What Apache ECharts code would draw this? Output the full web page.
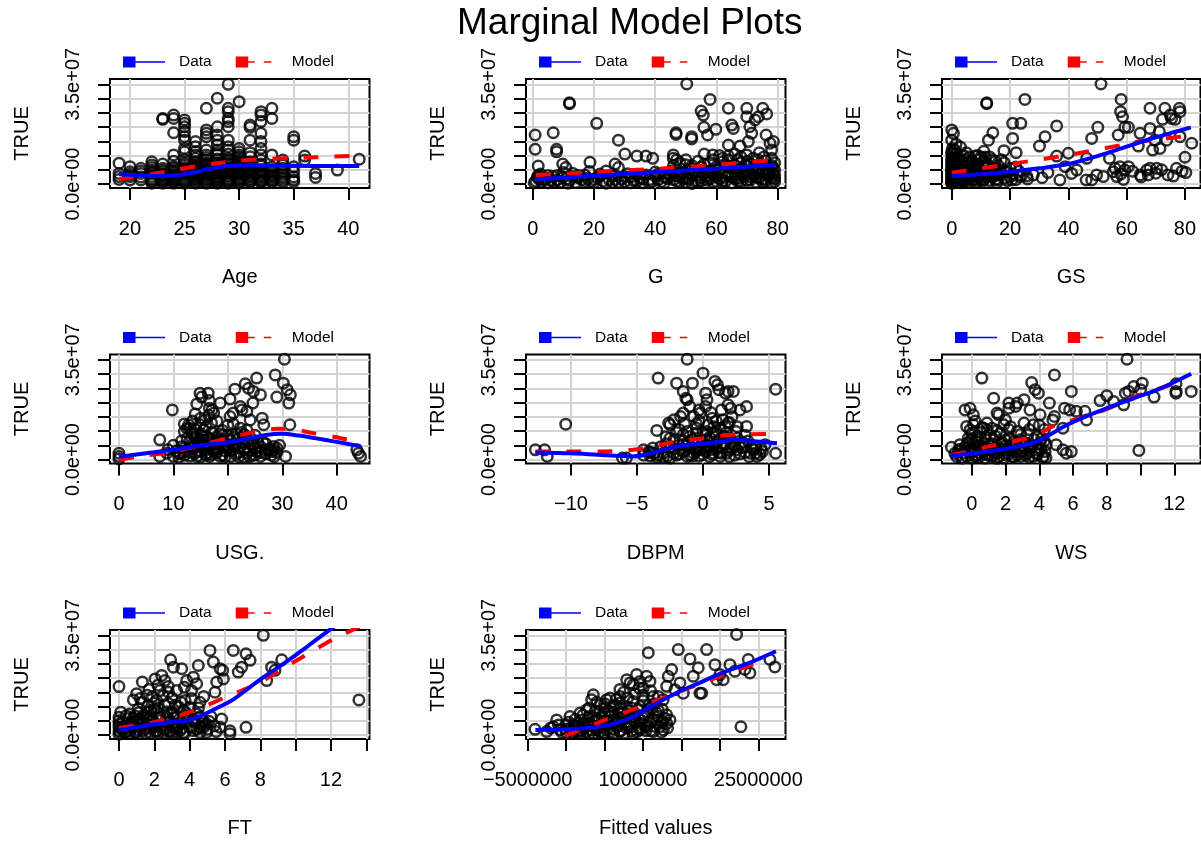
<!DOCTYPE html>
<html>
<head>
<meta charset="utf-8">
<title>Marginal Model Plots</title>
<script src="https://cdn.jsdelivr.net/npm/echarts@6/dist/echarts.min.js"></script>
<style>
  html, body { margin: 0; padding: 0; background: #fff; }
  #chart { width: 1201px; height: 843px; }
</style>
</head>
<body>
<div id="chart"></div>
<script>
// ---- data (salary in millions) ----
const yTicks = [0, 5, 10, 15, 20, 25, 30, 35];
const yLabelVals = [0, 35];
const yLabelText = ["0.0e+00", "3.5e+07"];

// Age: points grouped by age
const ageCols = [
  [19, [7.3, 3.7, 2.6, 1.6]],
  [20, [6.1, 4.3, 2.6, 1.4, 3.4]],
  [21, [5.5, 3.7, 1.4, 2.5, 4.6]],
  [22, [7.8, 6.7, 4.9, 3.7, 2.6, 0.8, 1.8, 5.8, 0.3, 1.2, 4.2]],
  [23, [23.0, 22.7, 5.5, 4.3, 2.6, 0.8, 1.6, 3.4, 7.0, 0.3, 1.2, 2.0, 3.0, 4.8]],
  [24, [24.2, 23.0, 18.0, 10.2, 6.1, 3.7, 2.0, 0.8, 1.2, 2.8, 4.8, 8.0, 0.3, 1.6, 2.4, 3.2, 4.3, 5.5]],
  [25, [22.5, 21.3, 20.1, 18.4, 16.6, 15.4, 12.5, 11.3, 6.7, 4.3, 2.6, 0.8, 1.5, 3.3, 5.2, 8.5, 0.3, 1.1, 2.0, 3.7, 4.8, 5.8, 7.3]],
  [26, [14.9, 13.1, 11.3, 10.2, 7.8, 5.5, 3.7, 2.0, 0.5, 1.2, 2.8, 4.6, 6.5, 9.0, 0.3, 1.6, 2.4, 3.2, 4.2, 5.0, 6.0, 7.2]],
  [27, [26.6, 19.0, 17.8, 16.6, 11.9, 10.2, 8.4, 6.7, 4.3, 2.6, 0.5, 1.2, 3.4, 5.3, 7.5, 9.3, 0.3, 1.6, 2.0, 3.0, 3.8, 4.8, 6.0, 7.0]],
  [28, [30.1, 20.1, 17.2, 15.4, 13.7, 11.9, 10.2, 7.3, 4.9, 2.6, 0.5, 1.4, 3.6, 6.0, 8.8, 11.0, 0.3, 1.0, 1.8, 2.2, 3.0, 4.2, 5.4, 6.5]],
  [29, [35.0, 26.6, 25.4, 23.0, 21.9, 20.1, 15.4, 13.1, 11.9, 9.0, 6.1, 3.7, 1.4, 0.5, 2.5, 4.8, 7.5, 10.5, 0.3, 1.0, 1.8, 3.0, 4.2, 5.4, 6.8, 8.2]],
  [30, [28.9, 12.5, 11.3, 10.2, 8.4, 6.7, 4.3, 2.0, 0.5, 1.2, 3.2, 5.5, 7.6, 9.5, 0.3, 1.6, 2.6, 3.8, 4.8, 6.0, 7.2]],
  [31, [20.7, 19.9, 15.4, 9.6, 7.8, 4.9, 2.6, 1.4, 0.5, 3.5, 6.2, 11.0, 1.0, 2.0, 3.0, 4.2, 5.5, 7.0]],
  [32, [25.4, 24.2, 21.9, 17.8, 14.9, 12.5, 8.4, 4.3, 2.6, 1.4, 0.5, 2.0, 6.3, 10.2, 1.0, 3.0, 3.6, 5.0, 7.0]],
  [33, [26.6, 23.0, 10.2, 4.3, 2.6, 1.4, 0.5, 3.5, 6.0, 1.0, 2.0, 3.0, 5.0]],
  [34, [8.4, 6.7, 4.3, 2.6, 1.2, 0.5, 2.0, 3.4, 5.5]],
  [35, [16.6, 15.4, 6.1, 4.3, 0.8, 1.5, 2.5]],
  [36, [9.8, 8.4]],
  [37, [3.7, 2.3]],
  [39, [4.9]],
  [41, [8.7]]
];
const ageData = [[19,3.4],[21,3.0],[22.5,2.8],[24,3.0],[25,3.4],[26,4.2],[27,5.1],[28,5.8],[29,6.3],[30,6.5],[32,6.5],[35,6.4],[38,6.3],[41,6.3]];
const ageModel = [[19,1.6],[20,2.4],[22,3.4],[24,4.8],[26,6.2],[28,7.3],[30,8.2],[32,8.7],[34,9.0],[37,9.4],[41,9.9]];
const ageTicks = [20, 25, 30, 35, 40];

// G
const gPts = [
  [0.8,17.2],[0.8,12.2],[6.7,18.0],[1.8,6.3],[7.8,12.2],[7.8,11.3],[12,28.5],[12,28.2],[20.9,21.3],[9.8,7.0],
  [10.8,5.8],[18.7,7.6],[28,15.4],[26.9,7.0],[28,5.8],[30.1,10.5],[34,9.8],[37,9.8],[39.2,9.0],[45.9,10.2],
  [46.8,18.0],[46.8,17.4],[45.9,9.0],[50.3,35.1],[51.9,16.6],[51.9,15.8],[55,25.6],[55.7,24.2],[55.9,19.9],[57.1,17.2],
  [57.9,29.7],[59.8,19.2],[58.8,10.2],[63.9,26.6],[65,20.7],[65.5,19.5],[63.9,13.7],[63.9,9.8],[67.7,13.3],[69.9,26.6],
  [69.9,23.6],[70.9,20.1],[71.5,17.8],[72.6,22.5],[73.7,23.6],[75.1,26.6],[76.4,24.6],[76.2,17.2],[77.5,14.3],[78.6,14.9],
  [78,11.9],[70.4,14.9],[69.9,10.2],[72,9.0],[78,9.0],
  [48,7.5],[50,8.5],[52,6.5],[54,8.0],[56,7.0],[60,6.0],[62,7.8],[64,8.5],[66,6.5],[68,7.5],[70,8.0],[72,6.0],
  [74,7.0],[76,8.2],[78,6.5],[79,7.5],[66,10.5],[74,11.0],[61,10.0],
  [1,1.0],[1.5,2.5],[2.5,3.5],[3,0.8],[4.5,2.0],[6,1.2],[8,3.0],[9,0.6],[11,1.8],[13,2.6],[14,0.5],[16,1.5],
  [17,3.2],[19,0.8],[21,2.3],[23,1.0],[24,0.3],[26,2.8],[28,0.6],[29,1.8],[31,3.6],[33,1.2],[35,2.2],[36,0.4],
  [38,1.5],[40,2.8],[42,0.8],[44,1.9],[44.5,3.6],[47,1.0],[48,2.5],[49,4.0],[50,0.5],[51,1.7],[52,3.1],[53,4.5],
  [54,0.9],[55,2.2],[56,3.8],[57,1.3],[58,4.6],[59,0.6],[60,2.7],[61,3.9],[62,1.1],[63,2.4],[64,4.2],[65,0.4],
  [66,1.9],[67,3.3],[68,0.8],[69,2.6],[70,4.4],[71,1.4],[72,3.0],[73,0.6],[74,2.1],[75,4.0],[76,1.2],[77,2.9],
  [78,0.5],[78.5,3.6],[79,1.8],[79,4.8],
  [41,3.5],[43,2.5],[45,4.5],[46,1.5],[47,3.0],[49,1.8],[51,3.5],[53,1.0],[55,4.2],[57,2.8],[59,3.5],[61,1.8],
  [63,3.8],[65,2.5],[67,1.0],[69,4.0],[71,2.5],[73,4.5],[75,1.8],[77,3.8],[79,2.8],[76,5.5],[70,6.5],[64,6.0],
  [58,7.5],[52,5.5],[46,6.5],[62,9.0],[68,9.5],[56,10.5],
  [2,1.8],[5,3.0],[7,0.6],[10,2.5],[12,1.2],[15,3.0],[18,2.0],[20,0.5],[22,3.5],[25,1.5],[27,3.0],[30,0.8],
  [32,2.5],[34,1.0],[37,3.2],[39,0.8],
  [0.5,0.4],[2,3.0],[3.5,1.5],[5,0.4],[6.5,2.6],[8,1.4],[10,4.0],[11.5,0.3],[13,3.8],[15,2.2],[17,0.9],[18.5,4.4],
  [20,1.6],[22,2.8],[24,4.6],[26,0.5],[27,1.6],[30,2.6],[32,0.4],[34,3.4],[36,1.8],[38,0.4],[40,4.2],[41,1.5],
  [43,0.4],[45,2.8],[46,4.0],[48,0.6],[50,2.0],[51,4.6],[52,0.2],[54,3.2],[55,1.1],[57,4.0],[58,2.0],[60,0.9],
  [61,5.0],[63,1.0],[64,3.0],[66,4.5],[67,2.0],[68,5.5],[70,1.2],[71,3.5],[72,4.8],[73,2.4],[74,5.6],[75,0.8],
  [76,3.2],[77,5.0],[78,2.2],[79,0.8],[78.5,5.8],[73.5,8.5],[75.5,9.5],[71,7.2],[67,8.5],[63,6.8],[59,8.5],[55,6.0],
  [50,6.8],[47,8.5]
];
const gData = [[1,1.6],[20,2.9],[40,4.1],[60,5.4],[79,6.7]];
const gModel = [[1,3.1],[20,4.2],[40,5.3],[60,6.7],[78,8.4]];
const gTicks = [0, 20, 40, 60, 80];

// GS
const gsPts = [
  [0,19.0],[0.6,17.8],[0,15.4],[0.3,12.5],[1.1,11.9],[12,28.5],[12,28.2],[12.6,15.4],[14.1,18.0],[17.9,11.7],
  [22.1,11.0],[20.9,21.3],[23.7,21.3],[20.9,16.0],[25.1,29.7],[20.6,1.4],[23.4,2.6],[25.7,2.8],[30.1,13.3],[32,16.6],
  [36,20.4],[36,9.8],[37.1,1.4],[40,10.8],[38.9,6.1],[41.1,3.7],[42.9,4.9],[46.3,9.0],[46.1,1.4],[48,1.4],
  [48,16.0],[50.1,19.9],[51.2,35.1],[49.7,3.2],[52,2.6],[54.1,9.0],[57.1,17.2],[58.1,29.7],[57.9,25.4],[58.6,23.6],
  [59.4,19.9],[60.6,19.9],[55.4,4.3],[56.6,2.6],[57.7,6.1],[59.4,4.9],[58.9,1.6],[60.6,6.1],[64.6,17.8],[64,13.3],
  [64.6,3.2],[67.4,3.2],[66.9,4.9],[68,5.5],[70.3,5.5],[68,26.6],[68,19.5],[68.9,11.9],[71.2,18.4],[71.4,12.5],
  [72.3,22.7],[73.1,26.6],[74.9,24.2],[75.4,23.0],[76.6,22.7],[78.1,26.6],[78.3,25.4],[77.1,5.5],[74.1,3.2],[80,9.4],
  [80.3,4.0],[78.3,16.6],[82.3,14.3],[73.7,15.4],[69.7,15.4],
  [0,0.5],[0,1.5],[0,2.5],[0,3.5],[0,5],[0,6.5],[0,8],[0.5,9.5],[1,0.8],[1,3],[1.5,4.5],[1.5,7],[2,1.5],[2,2.5],
  [2.5,6],[3,0.4],[3,3.8],[3.5,8.5],[4,1.8],[4.5,5.2],[5,2.8],[5.5,0.6],[6,4],[6,9.5],[6.5,7.5],[7,1.4],[7.5,3],
  [8,5.5],[8.5,0.8],[9,2.2],[9.5,8.5],[10,4],[10.5,1],[11,6],[11.5,9.5],[12,2.5],[13,1.2],[13.5,4.5],[14,8.5],
  [15,3],[15.5,0.5],[16,6.5],[17,8.5],[18,2],[19,4.5],[21,3.5],[22,1.5],[24,3],[13,9.5],[8,9.8],
  [0,0.2],[0,4.2],[0,7.2],[0,10.5],[0.5,2],[1,5.8],[1,9],[2,4],[2,7.8],[3,2.2],[3,5.8],[4,0.8],[4,10],[5,6.5],
  [6,1.8],[7,5],[8,3.5],[9,7],[10,1.8],[10,9.5],[12,4],[12,7],[14,2.5],[16,1.5],[17,4],[19,1.2],[20,5.5],[22,6],
  [18,7.5],[15,8],[11,11.5],[5,11],[3,13],[1.5,14],[62,4.5],[65,2.5],[70,3.8],[72,5],[76,2.8],[79,4.5],[56,5.5],[58,3.5],
  [0,1.0],[0,2.0],[0,3.0],[0,4.6],[0,5.6],[0,9.0],[0,11.3],[0.5,3.3],[0.5,6.2],[1,1.8],[1,4.0],[1,7.6],[1.5,2.8],
  [1.5,10.5],[2,0.5],[2,5.2],[2.5,3.5],[2.5,8.5],[3,1.5],[3,6.8],[3.5,4.5],[4,3],[4,6],[4.5,1.2],[5,4.5],[5,8.5],
  [5.5,2.5],[6,6.5],[7,3],[7,8],[8,1.5],[8,7],[9,4.5],[9,10],[10,3],[11,1.5],[11,8],[12,5.5],[13,3.2],[14,5.5],
  [15,1.6],[16,3.5],[18,4.5],[20,2.5],[23,4.5],[26,1.8],[28,3.2],[31,2.2],[33,4.0]
];
const gsData = [[0,2.8],[10,3.4],[20,4.3],[30,5.5],[40,7.0],[50,9.8],[60,13.1],[70,16.4],[82,19.9]];
const gsModel = [[0,4.0],[20,7.0],[40,10.2],[60,14.0],[70,15.6],[81,16.8]];
const gsTicks = [0, 20, 40, 60, 80];

// USG.
const usgPts = [
  [0,2.2],[0,1.1],[0,0.2],[7.5,6.9],[9.8,17.4],[7.5,1.1],[8.8,2.2],[10,1.1],[11.2,2.2],[12.5,11.0],
  [12.8,12.2],[13.4,9.2],[14.3,19.5],[14.9,23.3],[15.2,21.9],[15.8,13.9],[16.4,23.3],[16.6,20.7],[17.1,17.4],[16.6,18.0],
  [18.6,19.8],[17.4,16.3],[14.9,12.2],[15.5,10.4],[16.1,8.1],[13.7,5.7],[14.9,4.6],[16.1,2.2],[17.4,3.4],[12.5,3.4],
  [18,6.3],[19.2,4.6],[14.3,1.1],[16.7,1.1],[18.6,1.1],[20.4,15.1],[21,16.3],[20.4,21.2],[21.3,24.7],[22.3,18.6],
  [22.6,17.4],[23.2,26.6],[23.8,25.0],[24.7,23.9],[25.3,28.6],[26,22.7],[24.6,19.8],[23.5,16.9],[24.1,13.9],[26.3,14.5],
  [26.6,12.2],[23.5,10.4],[22.3,11.0],[22,7.5],[22.9,5.7],[24.7,5.2],[21,3.4],[23.5,2.2],[25.3,2.8],[26.9,3.4],
  [28.4,4.6],[28.4,3.4],[26,1.1],[28.7,29.7],[29,21.9],[30.4,35.2],[30.2,26.8],[30.9,24.5],[31.5,22.7],[31.2,19.8],
  [31.4,12.2],[30.6,1.1],[43.7,3.4],[44,2.2],[44.4,1.1],
  [10.5,3.0],[11.5,4.5],[12,1.5],[13,6.5],[14,7.8],[15,3.0],[16,5.5],[17,7.0],[18,2.5],[19,8.5],[20,3.9],
  [20.5,6.8],[21.5,1.8],[22,4.2],[23,8.8],[24,1.0],[25,4.0],[27,2.0],[28,2.8],[18.5,9.0],[15,9.0],
  [11,0.8],[12,2.8],[13,1.2],[13.5,4],[14,2.2],[14.5,6],[15,1],[15.5,5],[16,3.5],[16.5,7.5],[17,1.8],[17.5,5.5],
  [18,4],[18.5,7],[19,1.5],[19.5,3],[20,5],[20.5,1],[21,7.8],[21.5,5],[22,2.5],[22.5,9.5],[23,0.8],[24,3],
  [24.5,7],[25,1.6],[25.5,6],[26,4.5],[27,5.5],[28,1.5],[29,4],[12,9.8],[14,10.5],[16,11.5],[17,12.8],[19,10.2],
  [20,12],[13.5,13.5],
  [9,3.5],[10,5.0],[11,2.0],[11.5,6.5],[12,4.0],[12.5,7.5],[13,2.5],[13.5,9.0],[14,5.0],[14.5,3.0],[15,6.5],
  [15.5,8.0],[16,1.5],[16.5,4.5],[17,9.5],[17.5,2.5],[18,8.0],[18.5,5.0],[19,6.5],[19.5,1.0],[20,8.5],[20.5,3.0],
  [21,5.5],[21.5,9.0],[22,1.0],[22.5,6.0],[23,3.5],[23.5,7.0],[24,5.5],[24.5,1.5],[25,8.5],[26,2.5],[26.5,6.0],
  [27.5,3.5],[28.5,1.0],[29,2.5],[29.5,5.0],[15,14.5],[18,13.5],[21,12.5],[14,16],[16.5,15.5],[13,11],[12,12.5]
];
const usgData = [[0,1.0],[5,2.2],[10,3.4],[15,4.9],[20,6.0],[24,7.4],[27,8.6],[30,9.0],[33,8.4],[36,7.5],[40,6.2],[44.4,4.6]];
const usgModel = [[0,0],[5,1.4],[10,2.8],[15,5.0],[20,7.5],[25,9.7],[29,10.8],[32,10.6],[35,9.5],[40,7.8],[44.7,5.7]];
const usgTicks = [0, 10, 20, 30, 40];

// DBPM
const dbpmPts = [
  [-12.7,3.4],[-12,3.4],[-11.8,1.1],[-10.4,12.4],[-6.1,0.5],[-5.8,0.5],[-4.5,3.4],[-4.1,2.8],[-3.7,2.2],[-3.4,1.6],
  [-3.5,10.2],[-3.4,28.6],[-2.6,12.8],[-2.5,12.2],[-2,26.8],[-1.5,23.9],[-1.2,35.2],[-0.8,26.8],[-1.3,21.5],[-1.2,21.0],
  [-1,18.6],[-1.5,16.3],[-1.7,15.1],[-0.7,15.1],[-0.3,17.4],[0,30.3],[0.2,23.3],[0.3,21.0],[0.2,18.6],[-0.2,16.3],
  [0.7,14.5],[0.4,12.2],[0.9,27.4],[1.1,26.2],[1.2,24.5],[1.7,23.3],[1.9,23.9],[2.3,23.9],[1.4,17.4],[1.9,19.2],
  [2.1,18.0],[2.8,17.4],[3.3,18.6],[3.3,11.6],[5.5,24.7],[5.5,2.2],[3.6,2.2],[4.1,1.1],[3.8,3.4],[4.5,2.8],
  [4.7,5.2],[2.6,3.4],[1.8,2.2],[1.3,1.1],[0.8,2.2],[0.4,4.6],[-0.2,3.4],[-0.7,2.2],[-1.2,1.1],[-1.7,3.4],
  [-2.2,2.2],[-2.7,1.1],[-1,8.1],[-0.5,9.2],[0.3,9.8],[1.3,11.0],[1.7,11.6],[1.9,12.8],[-1.5,8.7],[-2.2,6.9],
  [-0.7,5.7],[2.1,5.7],[2.6,7.5],[3.1,4.6],[1.1,6.3],[0.3,6.9],
  [-3,0.8],[-2.5,4.5],[-2,1.5],[-1.8,5],[-1.5,2.8],[-1.2,6],[-1,4],[-0.8,1.2],[-0.5,3],[-0.3,6.5],[0,1.8],
  [0,4.5],[0.2,8.5],[0.5,1],[0.6,3.5],[0.9,5.2],[1,9],[1.2,2.5],[1.5,4.2],[1.6,8],[2,1],[2,3.2],[2.4,5],
  [2.5,9.8],[2.8,2],[3,6],[3.5,1],[3.2,8.5],[4,4.5],[4.3,1.8],[-4,1.2],[-3.8,4],[-2.8,8],[-1.8,10.5],[0.8,11.5],
  [-0.5,12.5],[1.5,14],[-2.2,14],[0.6,16.5],[2.2,15],
  [-4.5,1.5],[-4,2.5],[-3.5,0.8],[-3.2,4.5],[-3,2.2],[-2.8,5.5],[-2.5,0.5],[-2.5,7.5],[-2.2,3.8],[-2,9.5],
  [-1.8,2.0],[-1.5,6.5],[-1.3,4.8],[-1.2,9.8],[-1,1.5],[-0.8,7.0],[-0.6,3.8],[-0.5,11],[-0.3,1.2],[0,6.0],
  [0,9.5],[0.2,2.8],[0.3,5.0],[0.5,7.8],[0.7,1.8],[0.8,9.5],[1,4.0],[1.2,7.0],[1.4,2.2],[1.6,5.5],[1.8,9.5],
  [2,7.5],[2.2,3.8],[2.4,1.5],[2.6,11.5],[2.9,4.2],[3.2,2.5],[3.4,6.5],[3.7,4.2],[4,2.2],[4.4,3.8],[-0.3,13.5],
  [1,13.5],[-1.4,12.5],[2,13.0]
];
const dbpmData = [[-12.7,2.5],[-10,2.2],[-8,1.7],[-5.5,1.1],[-4.5,1.5],[-3.2,3.2],[-1.5,5.0],[0,5.5],[1.5,6.3],[2.3,6.9],[3.5,6.6],[5.6,5.7]];
const dbpmModel = [[-12.7,2.8],[-10,2.8],[-7.8,2.8],[-5.3,3.4],[-4,4.3],[-2.7,5.7],[-1.3,6.8],[0,7.5],[1.5,8.4],[2.3,8.7],[5.1,9.0]];
const dbpmTicks = [-10, -5, 0, 5];

// WS
const wsPts = [
  [-1.2,4.3],[-0.7,5.2],[-0.4,17.4],[-0.1,18.0],[0.1,15.7],[-0.3,11.6],[-0.1,10.4],[0,9.2],[-0.2,7.5],[0.1,12.2],
  [0.3,8.1],[0.6,28.6],[0.7,11.0],[0.9,10.4],[1.3,21.5],[1.5,16.3],[1.6,15.7],[2.0,13.9],[2.2,19.8],[2.2,18.0],
  [2.6,18.6],[2.7,19.8],[3.1,21.0],[3.55,27.0],[3.75,24.5],[3.95,23.3],[3.45,17.4],[3.65,12.2],[4.05,15.7],[4.6,19.8],
  [4.8,13.9],[4.9,15.1],[4.9,29.7],[5.0,5.2],[5.4,3.4],[5.6,2.2],[5.9,2.8],[5.4,11.0],[5.5,18.0],[5.8,17.4],
  [5.9,23.9],[6.2,16.9],[6.7,16.9],[6.8,13.9],[7.6,20.7],[8.0,22.4],[8.4,20.4],[9.0,19.2],[9.1,23.3],[9.3,23.9],
  [9.6,25.6],[10.0,24.5],[10.1,26.8],[9.9,3.2],[10.8,21.9],[12.1,26.6],[12.1,23.9],[12.1,23.3],[13.0,23.9],[9.2,35.2],
  [-0.9,1.1],[-0.5,2.2],[-0.3,1.1],[-0.1,3.4],[0.2,1.1],[0.5,2.2],[0.8,0.5],[0.9,3.4],[1.2,1.1],[1.5,2.2],
  [1.7,5.7],[1.9,0.5],[2.1,3.4],[2.4,1.1],[2.6,2.8],[2.9,1.1],[3.1,4.6],[3.3,2.2],[3.65,1.1],[3.85,3.4],
  [4.05,5.7],[4.25,1.1],[4.35,2.8],[4.15,7.5],[2.5,6.3],[1.3,6.9],[0.7,5.7],[0.3,4.6],[1.7,9.2],[2.7,9.8],
  [3.3,8.7],[0.9,12.8],[1.9,12.2],
  [-0.8,3],[-0.6,0.5],[-0.4,4.2],[-0.2,6],[0,0.5],[0,2.5],[0.1,5.5],[0.3,1.6],[0.4,7],[0.6,3.8],[0.8,1.8],
  [1,5],[1.1,8.5],[1.3,2.6],[1.4,4.2],[1.6,1],[1.8,3.8],[2,6.8],[2.2,2],[2.3,4.8],[2.5,0.8],[2.8,3.8],[3,6],
  [3.2,1.5],[3.4,3.2],[3.6,5],[3.8,2.2],[4,4],[4.2,0.6],[4.4,5.2],[3.9,8],[2.9,8.8],[0.5,9.5],[1.2,11],
  [2.3,11.5],[3.1,12.8],[0.2,13.5],[4.3,10.5],
  [-1,2.2],[-0.7,3.6],[-0.5,0.6],[-0.3,5.2],[-0.2,2.8],[0,4],[0,7.2],[0.2,3.2],[0.3,6.2],[0.4,0.8],[0.5,4.8],
  [0.7,2.5],[0.8,7.8],[1,1.5],[1,3.8],[1.2,5.5],[1.4,8.2],[1.5,0.4],[1.6,3.0],[1.8,6.0],[2,1.6],[2,4.8],[2.2,7.5],
  [2.4,3.5],[2.6,5.5],[2.7,1.6],[2.9,7],[3,2.8],[3.2,5.8],[3.4,0.8],[3.5,4.2],[3.7,7],[3.9,1.8],[4.1,3.6],
  [4.3,6.5],[4.4,0.6],[1.5,10.2],[2.2,10.5],[3.4,10.5],[0.6,11.2],[4,12]
];
const wsData = [[-1.2,1.3],[0,2.1],[1.7,3.4],[3.5,5.6],[4.1,6.9],[5.6,12],[7,15.7],[8,18],[9.6,21.5],[11.2,25],[13,30.1]];
const wsModel = [[-1.2,1.6],[0,3.0],[1,4.6],[2.5,6.5],[3.7,8.1],[4.8,11.6],[6.6,14.9],[8,17.7],[9.6,21.9],[12,26.6]];
const wsTicks = [0, 2, 4, 6, 8, 10, 12];
const wsLabels = [0, 2, 4, 6, 8, 12];

// FT
const ftPts = [
  [0,6.2],[0,17.0],[0,2.7],[0,1.5],[0.25,2.1],[0.43,3.3],[0.72,4.5],[0.81,12.3],[0.62,7.4],[1.09,9.2],
  [1.32,18.6],[1.19,5.1],[1.57,8.0],[1.66,10.3],[1.75,6.2],[1.94,2.7],[2.04,19.7],[2.13,12.1],[2.32,15.6],[2.42,20.9],
  [2.6,19.1],[2.79,17.0],[2.92,26.4],[3.08,23.8],[3.26,15.6],[3.55,23.3],[3.74,12.1],[3.83,19.1],[4.21,20.3],[4.4,18.0],
  [4.49,24.4],[4.11,15.6],[4.02,9.7],[3.83,5.1],[3.08,2.7],[3.45,1.5],[4.58,11.5],[4.58,2.7],[4.96,3.9],[5.15,29.7],
  [5.34,25.6],[5.53,18.6],[5.43,15.0],[5.72,23.3],[5.87,22.7],[5.91,19.7],[5.81,5.6],[5.72,2.7],[6.28,1.5],[6.28,0.4],
  [6.47,29.7],[6.75,22.1],[6.94,23.8],[7.19,28.5],[7.42,26.2],[7.19,2.7],[8.17,35.0],[8.36,19.1],[8.64,23.8],[8.83,22.7],
  [9.21,26.4],[13.58,12.3],
  [0.06,0.9],[0.34,0.9],[0.62,1.5],[1.0,0.9],[1.38,1.5],[1.75,0.9],[2.13,1.5],[2.51,0.9],[2.89,1.5],[3.26,0.9],
  [3.64,0.9],[4.21,1.5],[4.58,0.9],[4.96,0.9],[2.32,5.1],[2.7,6.2],[1.57,3.9],[0.81,3.9],[3.08,7.4],[3.64,8.6],
  [4.4,7.4],[4.77,5.1],[1.4,7.0],[2.2,9.5],[2.8,11.0],[1.9,13.5],[3.0,13.0],
  [0.2,4.5],[0.4,1.2],[0.5,5.8],[0.7,2.4],[0.9,6.8],[1.1,1.8],[1.2,3.6],[1.3,11.5],[1.5,2.2],[1.6,5.4],[1.8,8.5],
  [2,4.2],[2.1,1.2],[2.3,7.2],[2.4,2.8],[2.6,10.5],[2.7,4.5],[2.9,1.2],[3,8.2],[3.2,3.4],[3.3,6.5],[3.5,11.5],
  [3.6,2.4],[3.8,7.8],[4,3],[4.2,5.5],[4.4,2],[4.5,9.5],[4.7,4],[5,2],[5.2,6.5],[5.5,1.2],[1.0,14.5],[1.7,16],
  [2.5,13.8],[3.7,16.8],[4.8,13.5],[2.2,17.5],
  [0,0.3],[0,3.8],[0,5.0],[0.1,8.0],[0.2,1.8],[0.3,3.0],[0.4,6.8],[0.6,0.5],[0.7,3.2],[0.8,5.8],[0.9,1.0],
  [1,4.8],[1.1,7.8],[1.2,2.5],[1.4,4.5],[1.5,0.6],[1.6,6.5],[1.7,2.8],[1.9,5.2],[2,9.0],[2.1,3.2],[2.2,0.5],
  [2.3,6.2],[2.5,3.8],[2.6,1.8],[2.7,8.2],[2.9,4.8],[3,0.5],[3.1,6],[3.3,2.4],[3.4,9.8],[3.5,4.4],[3.7,0.6],
  [3.9,6.8],[4.1,2.6],[4.3,4.5],[4.6,6.5],[4.8,2.8],[5.1,4.8],[5.4,3.2],[1.2,12.8],[2,11.2],[3.2,10.5],[4.1,12.8],
  [1.6,14],[2.8,15]
];
const ftData = [[0,1.8],[1,2.8],[2,3.8],[3,4.6],[3.8,5.0],[4.5,6.4],[5.5,9.3],[6.5,12.6],[8,19.5],[9.3,25],[10.6,30.8],[11.9,36.8],[13.6,44.5]];
const ftModel = [[0,2.5],[2,4.5],[4,8],[6,13.2],[8,18.6],[10,26],[12.3,34.2],[13.2,36.8],[13.6,38]];
const ftTicks = [0, 2, 4, 6, 8, 10, 12, 14];
const ftLabels = [0, 2, 4, 6, 8, 12];

// Fitted values (millions)
const fitPts = [
  [-4.05,2.0],[-2.53,1.2],[-1.66,2.9],[-1.23,5.3],[-0.8,1.8],[0.07,3.5],[0.5,6.5],[1.16,2.4],[1.81,7.7],[2.24,4.1],
  [2.67,8.8],[3.32,12.4],[3.54,14.1],[3.97,5.3],[4.41,10.6],[4.84,2.9],[5.27,12.4],[5.71,13.0],[5.06,7.7],[6.14,10.0],
  [6.57,5.3],[7.01,13.5],[7.44,7.7],[7.88,19.4],[8.31,18.3],[8.74,5.3],[8.74,17.7],[9.17,21.2],[9.61,18.8],[10.04,16.5],
  [10.69,28.9],[10.47,20.6],[10.91,18.8],[11.34,13.5],[11.77,7.7],[12.21,2.9],[12.64,1.8],[13.08,4.1],[13.51,5.3],[12.64,12.4],
  [13.08,17.1],[13.29,20.6],[13.73,23.0],[14.16,15.9],[14.59,30.0],[14.81,18.3],[15.24,14.7],[16.11,26.7],[16.54,20.6],[17.19,23.6],
  [17.41,14.7],[17.63,14.7],[18.28,30.0],[19.36,24.7],[19.58,19.4],[20.01,21.2],[20.44,19.4],[21.31,24.7],[21.96,22.4],[22.18,35.3],
  [22.74,2.9],[23.26,23.0],[23.7,26.5],[23.91,21.8],[26.51,26.5],[27.16,23.9],
  [0.94,1.2],[1.81,0.6],[2.67,1.2],[3.54,0.6],[4.41,1.2],[5.27,1.8],[6.14,0.6],[7.01,1.2],[7.88,2.4],[8.74,0.6],
  [9.61,1.8],[10.47,2.9],[11.34,1.2],[6.57,2.9],[4.84,4.7],[3.11,4.1],[2.02,2.4],[8.31,4.1],[9.61,5.3],[10.91,4.1],
  [7.88,10.0],[7.01,7.7],[5.71,6.5],[4.41,8.2],[9.61,10.0],[10.47,8.2],[8.74,11.8],[7.01,11.2],[11.77,5.3],[13.08,7.1],
  [0,0.8],[0.5,2.2],[1,3.5],[1.5,1.2],[2,5.2],[2.5,2.8],[3,0.5],[3,6.5],[3.5,3.2],[4,1.8],[4,6],[4.5,3.5],
  [5,0.8],[5,9.5],[5.5,4.2],[6,2.2],[6,8],[6.5,4],[7,1.5],[7,9.5],[7.5,5.5],[8,3],[8,7.5],[8.5,1.5],[8.5,9.5],
  [9,4.5],[9,7.5],[9.5,2.5],[10,6],[10,12],[10.5,3.5],[11,9.5],[11,1.5],[11.5,11],[12,6.5],[12.5,4.5],[12.5,9],
  [6.5,12.5],[9,14.5],[11,15.5],[4,11.5],[3,9.5],[7.5,15],
  [-2,2.5],[-1,3.5],[-0.5,0.8],[0,2],[0.3,4.5],[0.8,0.5],[1.2,5.5],[1.5,3.0],[2,1.5],[2.2,7],[2.8,3.8],[3.2,1.8],
  [3.6,5],[3.8,8.5],[4.2,2.5],[4.6,6.5],[4.8,0.5],[5.2,3.5],[5.5,8.5],[5.8,1.2],[6.2,5.2],[6.4,10.5],[6.8,3.2],
  [7.2,6.2],[7.5,0.6],[7.8,4.5],[8.2,8.5],[8.4,2.8],[8.8,6.5],[9.2,1.2],[9.4,9],[9.8,4],[10.2,7],[10.4,1.5],
  [10.8,10.5],[11.2,5.5],[11.6,3],[12,8.5],[12.4,1],[12.8,6],[13.2,2.5],[5,11],[8,13],[10,14],[12,13.5],[7,16],[9.5,16.5]
];
const fitData = [[-4,1.8],[0,2.0],[3.5,2.6],[6,3.8],[8.7,6.4],[11.3,10.4],[15,15.6],[17.5,18.5],[20,21.5],[24,25.5],[27.3,29.4]];
const fitModel = [[-0.1,-0.3],[5,5.2],[10,10.3],[15,15.5],[20,20.6],[24.9,25.3]];
const fitTicks = [-5, 0, 5, 10, 15, 20, 25];
const fitLabels = [-5, 10, 25];

// ---- layout ----
const FONT = "'Liberation Sans', Arial, Helvetica, sans-serif";
const colLeft = [110, 526, 942];
const colWidth = [259.5, 259.5, 258.5];
const rowTop = [79, 354.5, 630];
const boxH = 109;

const minus = (v) => (v < 0 ? "\u2212" + Math.abs(v) : String(v));

const panels = [
  { name: "Age", pts: ageCols.flatMap(([a, ys]) => ys.map((y) => [a, y])), dat: ageData, mod: ageModel,
    ticks: ageTicks, labels: ageTicks, step: 5, min: 18.17, max: 41.94, row: 0, col: 0, fmt: String },
  { name: "G", pts: gPts, dat: gData, mod: gModel, ticks: gTicks, labels: gTicks, step: 20,
    min: -2.19, max: 82.54, row: 0, col: 1, fmt: String },
  { name: "GS", pts: gsPts, dat: gsData, mod: gsModel, ticks: gsTicks, labels: gsTicks, step: 20,
    min: -3.33, max: 85.32, row: 0, col: 2, fmt: String },
  { name: "USG.", pts: usgPts, dat: usgData, mod: usgModel, ticks: usgTicks, labels: usgTicks, step: 10,
    min: -1.65, max: 46.03, row: 1, col: 0, fmt: String },
  { name: "DBPM", pts: dbpmPts, dat: dbpmData, mod: dbpmModel, ticks: dbpmTicks, labels: dbpmTicks, step: 5,
    min: -13.41, max: 6.25, row: 1, col: 1, fmt: minus },
  { name: "WS", pts: wsPts, dat: wsData, mod: wsModel, ticks: wsTicks, labels: wsLabels, step: 2,
    min: -1.76, max: 13.55, row: 1, col: 2, fmt: String },
  { name: "FT", pts: ftPts, dat: ftData, mod: ftModel, ticks: ftTicks, labels: ftLabels, step: 2,
    min: -0.51, max: 14.18, row: 2, col: 0, fmt: String },
  { name: "Fitted values", pts: fitPts, dat: fitData, mod: fitModel, ticks: fitTicks, labels: fitLabels, step: 5,
    min: -5.22, max: 28.54, row: 2, col: 1, fmt: (v) => minus(Math.round(v * 1e6)) }
];

const dataIcon = "path://M0,0H12.5V11H0Z M12.5,4.75H42V6.25H12.5Z";
const modelIcon = "path://M0,0H12.5V11H0Z M12.5,4.75H19V6.25H12.5Z M28,4.75H35.5V6.25H28Z M41.98,5.5L42,5.5L42,5.52Z";

const grids = [], xAxes = [], yAxes = [], legends = [], series = [];

panels.forEach((p, i) => {
  const left = colLeft[p.col], top = rowTop[p.row], width = colWidth[p.col];
  grids.push({
    left, top, width, height: boxH,
    containLabel: false, outerBoundsMode: "none",
    show: true, borderColor: "#000", borderWidth: 2, backgroundColor: "transparent"
  });
  xAxes.push({
    gridIndex: i, type: "value", min: p.min, max: p.max,
    minInterval: p.step, maxInterval: p.step,
    axisLine: { show: false, onZero: false },
    axisTick: { show: true, customValues: p.ticks, length: 12, lineStyle: { color: "#000", width: 2 } },
    axisLabel: { customValues: p.labels, formatter: p.fmt, fontSize: 20, color: "#000", margin: 31, fontFamily: FONT },
    splitLine: { show: true, lineStyle: { color: "#d3d3d3", width: 2 } },
    name: p.name, nameLocation: "middle", nameGap: 79.5,
    nameTextStyle: { fontSize: 20, color: "#000", fontFamily: FONT }
  });
  yAxes.push({
    gridIndex: i, type: "value", min: -1.4, max: 36.86,
    minInterval: 5, maxInterval: 5,
    axisLine: { show: false, onZero: false },
    axisTick: { show: true, customValues: yTicks, length: 12, lineStyle: { color: "#000", width: 2 } },
    axisLabel: {
      customValues: yLabelVals, rotate: 90, margin: 26.5, fontSize: 20, color: "#000", fontFamily: FONT,
      formatter: (v) => yLabelText[yLabelVals.indexOf(Math.round(v))] || ""
    },
    splitLine: { show: true, lineStyle: { color: "#d3d3d3", width: 2 } },
    name: "TRUE", nameLocation: "middle", nameGap: 78, nameRotate: 90,
    nameTextStyle: { fontSize: 20, color: "#000", fontFamily: FONT }
  });
  legends.push({
    left: left + 13, top: top - 25, padding: 0,
    itemWidth: 42, itemHeight: 11, itemGap: 24, selectedMode: false,
    textStyle: { fontSize: 15.5, color: "#000", fontFamily: FONT, padding: [0, 0, 0, 9] },
    data: [{ name: "Data", icon: dataIcon }, { name: "Model", icon: modelIcon }]
  });
  series.push({
    name: "points", type: "scatter", xAxisIndex: i, yAxisIndex: i, data: p.pts,
    symbol: "circle", symbolSize: 10.5, silent: true, z: 2,
    itemStyle: { color: "rgba(0,0,0,0)", borderColor: "#000", borderWidth: 2.5 }
  });
  series.push({
    name: "Data", type: "line", xAxisIndex: i, yAxisIndex: i, data: p.dat,
    showSymbol: false, smooth: 0.3, silent: true, z: 4,
    itemStyle: { color: "#0000ff" }, lineStyle: { color: "#0000ff", width: 4 }
  });
  series.push({
    name: "Model", type: "line", xAxisIndex: i, yAxisIndex: i, data: p.mod,
    showSymbol: false, smooth: 0.3, silent: true, z: 3,
    itemStyle: { color: "#ff0000" }, lineStyle: { color: "#ff0000", width: 4, type: [15, 16] }
  });
});

const chart = echarts.init(document.getElementById("chart"), null, { renderer: "canvas" });
chart.setOption({
  animation: false,
  backgroundColor: "#fff",
  title: {
    text: "Marginal Model Plots", left: 457, top: 5, padding: 0,
    textStyle: { fontSize: 37, fontWeight: "normal", color: "#000", fontFamily: FONT }
  },
  grid: grids,
  xAxis: xAxes,
  yAxis: yAxes,
  legend: legends,
  series: series
});
</script>
</body>
</html>
